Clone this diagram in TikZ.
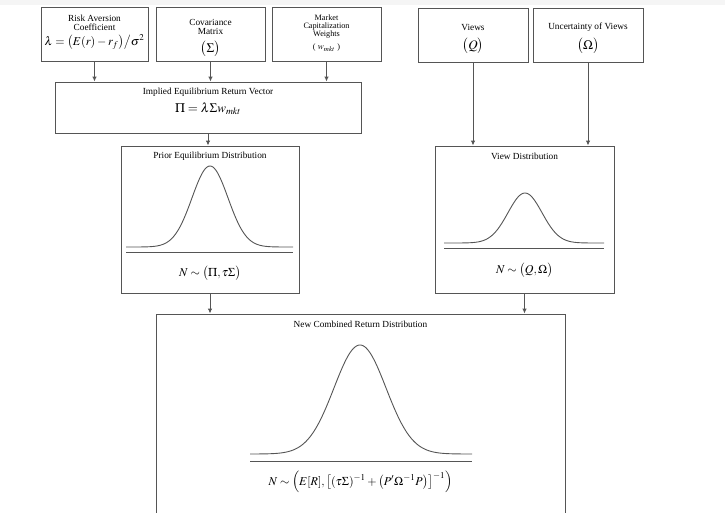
\documentclass[tikz,border=0pt]{standalone}
\usepackage{mathptmx}
\usepackage{fontspec}
\setmainfont{Liberation Serif}
\usetikzlibrary{arrows.meta}
\definecolor{ln}{HTML}{555555}
\begin{document}
\begin{tikzpicture}[x=1pt,y=-1pt,
  box/.style={draw=ln, line width=0.9pt, rectangle, inner sep=0pt},
  arr/.style={draw=ln, line width=0.9pt, -{Latex[length=5pt,width=4.5pt]}},
  crv/.style={draw=ln, line width=0.9pt},
  ttl/.style={font=\fontsize{9.3}{10}\selectfont, inner sep=0pt},
  sml/.style={font=\fontsize{8.2}{9}\selectfont, inner sep=0pt},
  fml/.style={font=\fontsize{12}{14}\selectfont, inner sep=0pt},
  fmlb/.style={font=\fontsize{13}{15}\selectfont, inner sep=0pt}]
\useasboundingbox (0,0) rectangle (725,512);
\clip (0,0) rectangle (725,512);
\fill[black!4] (0,0) rectangle (725,5);

% top boxes
\node[box, minimum width=107pt, minimum height=54pt] (risk) at (94.5,34) {};
\node[box, minimum width=109pt, minimum height=54pt] (cov) at (210.5,34) {};
\node[box, minimum width=109pt, minimum height=54pt] (mkt) at (326.5,34) {};
\node[box, minimum width=110pt, minimum height=54pt] (views) at (473,35) {};
\node[box, minimum width=110pt, minimum height=54pt] (unc) at (588,35) {};

\node[ttl] (riskA) at (94.5,18) {Risk Aversion};
\node[ttl] (riskB) at (94.5,27) {Coefficient};
\node[fml] (riskC) at (94.5,42) {$\lambda = \bigl(E(r)-r_{f}\bigr)\big/\sigma^{2}$};

\node[ttl] (covA) at (210.5,22.5) {Covariance};
\node[ttl] (covB) at (210.5,31) {Matrix};
\node[fmlb] (covC) at (210.5,49) {$\bigl(\Sigma\bigr)$};

\node[sml] (mktA) at (326.5,17.5) {Market};
\node[sml] (mktB) at (326.5,26.5) {Capitalization};
\node[sml] (mktC) at (326.5,35) {Weights};
\node[sml] (mktD) at (326.5,48) {(\;{\fontsize{9}{10}\selectfont$w_{mkt}$}\;)};

\node[ttl] (viewsA) at (473,27.5) {Views};
\node[fmlb] (viewsB) at (473,46) {$\bigl(Q\bigr)$};
\node[ttl] (uncA) at (588,27.5) {Uncertainty of Views};
\node[fmlb] (uncB) at (588,46) {$\bigl(\Omega\bigr)$};

% implied
\node[box, minimum width=306pt, minimum height=51pt] (impl) at (208,107.5) {};
\node[ttl] (implA) at (208,92.5) {Implied Equilibrium Return Vector};
\node[fmlb] (implB) at (208,109) {$\Pi = \lambda\Sigma w_{mkt}$};

% prior
\node[box, minimum width=178pt, minimum height=147pt] (prior) at (210,219.5) {};
\node[ttl] (priorA) at (210,156) {Prior Equilibrium Distribution};
\draw[crv] plot[domain=126:293, samples=120, smooth] (\x, {247-81*exp(-((\x-210)^2)/(2*18^2))});
\draw[crv] (126,252) -- (293,252);
\node[fml] (priorB) at (210,273) {$N \sim \bigl(\Pi, \tau\Sigma\bigr)$};

% view distribution
\node[box, minimum width=179pt, minimum height=147pt] (vdist) at (524.5,219.5) {};
\node[ttl] (vdistA) at (524.5,156) {View Distribution};
\draw[crv] plot[domain=444:604, samples=120, smooth] (\x, {243-50*exp(-((\x-525)^2)/(2*17^2))});
\draw[crv] (444,248) -- (604,248);
\node[fml] (vdistB) at (524.5,270) {$N \sim \bigl(Q, \Omega\bigr)$};

% combined
\node[box, minimum width=409pt, minimum height=232pt] (comb) at (360.5,430) {};
\node[ttl] (combA) at (360.5,324) {New Combined Return Distribution};
\draw[crv] plot[domain=250:472, samples=160, smooth] (\x, {454-109*exp(-((\x-360)^2)/(2*26^2))});
\draw[crv] (250,461) -- (472,461);
\node[fml] (combB) at (360.5,482) {$N \sim \Bigl(E[R], \bigl[(\tau\Sigma)^{-1} + \bigl(P'\Omega^{-1}P\bigr)\bigr]^{-1}\Bigr)$};

% connectors
\draw[arr] (risk.south) -- (risk.south |- impl.north);
\draw[arr] (cov.south) -- (cov.south |- impl.north);
\draw[arr] (mkt.south) -- (mkt.south |- impl.north);
\draw[arr] (impl.south) -- (impl.south |- prior.north);
\draw[arr] (views.south) -- (views.south |- vdist.north);
\draw[arr] (unc.south) -- (unc.south |- vdist.north);
\draw[arr] (prior.south) -- (prior.south |- comb.north);
\draw[arr] (vdist.south) -- (vdist.south |- comb.north);
\end{tikzpicture}
\end{document}
